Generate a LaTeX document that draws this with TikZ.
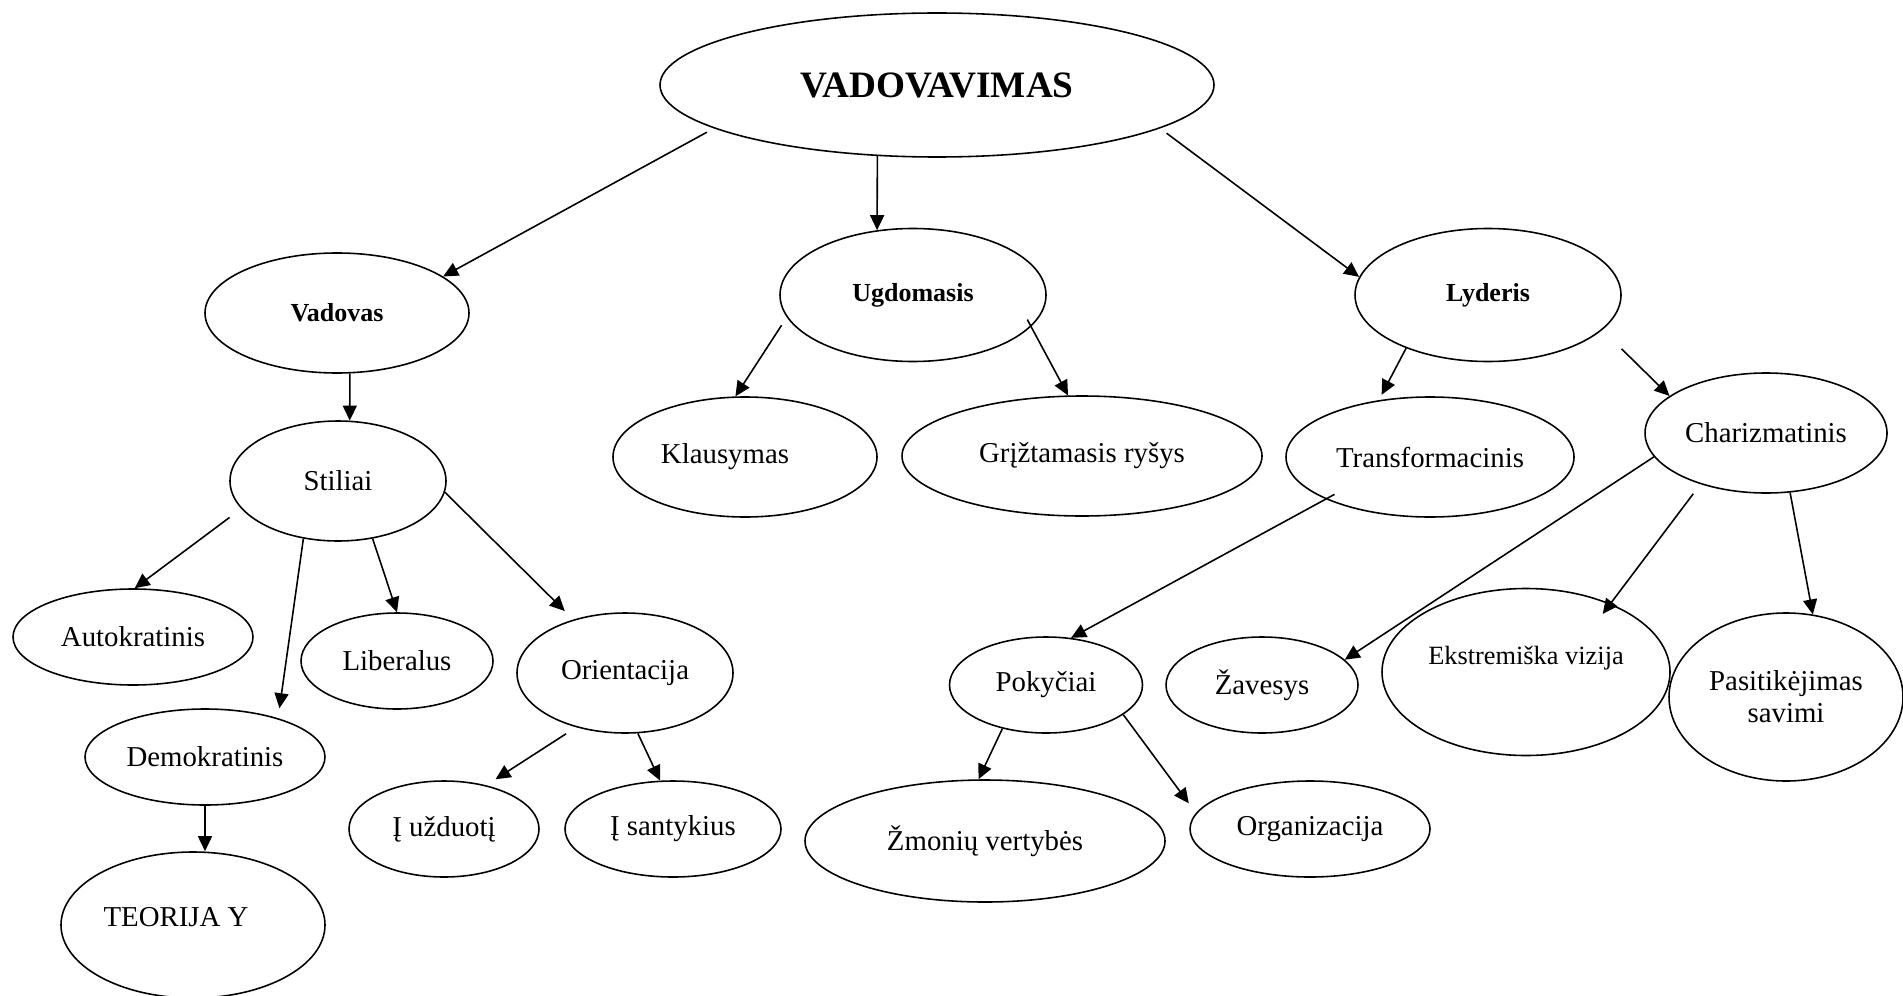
\documentclass[tikz,border=0pt]{standalone}
\usepackage{fontspec}
\setmainfont{Liberation Serif}
\usepackage{tikz}
\usetikzlibrary{positioning}
\usetikzlibrary{shapes.geometric}
\usetikzlibrary{arrows.meta}
\pgfdeclarelayer{nodelayer}
\pgfdeclarelayer{edgelayer}
\pgfsetlayers{nodelayer,edgelayer,main}
\tikzset{
  ovaltext/.style={font=\fontsize{8.2}{9.1}\selectfont, align=center},
  oval/.style={ellipse, draw, line width=0.45pt, inner sep=0pt, ovaltext},
  headoval/.style={oval, font=\fontsize{10.6}{12}\selectfont\bfseries},
  boldoval/.style={oval, font=\fontsize{7.4}{9}\selectfont\bfseries},
  arrowline/.style={-{Triangle[length=1.5mm, width=1.4mm]}, line width=0.45pt},
}

\begin{document}
\begin{tikzpicture}
  \useasboundingbox (0, 0) rectangle (19.03, 9.95);
  \begin{pgfonlayer}{nodelayer}
    \node [headoval, minimum width=5.54cm, minimum height=1.44cm] (vadovavimas) at (9.37, 9.10) {VADOVAVIMAS};
    \node [boldoval, minimum width=2.64cm, minimum height=1.2cm] (vadovas) at (3.37, 6.82) {Vadovas};
    \node [boldoval, minimum width=2.66cm, minimum height=1.33cm] (ugdomasis) at (9.13, 7.00) {Ugdomasis};
    \node [boldoval, minimum width=2.66cm, minimum height=1.33cm] (lyderis) at (14.88, 7.00) {Lyderis};
    \node [oval, minimum width=2.16cm, minimum height=1.2cm] (stiliai) at (3.38, 5.14) {Stiliai};
    \node [oval, minimum width=2.64cm, minimum height=1.2cm, label={[ovaltext, xshift=-0.2cm]center:Klausymas}] (klausymas) at (7.45, 5.38) {};
    \node [oval, minimum width=3.6cm, minimum height=1.2cm] (griztamasis) at (10.82, 5.39) {Grįžtamasis ryšys};
    \node [oval, minimum width=2.88cm, minimum height=1.2cm] (transformacinis) at (14.30, 5.38) {Transformacinis};
    \node [oval, minimum width=2.42cm, minimum height=1.2cm] (charizmatinis) at (17.66, 5.62) {Charizmatinis};
    \node [oval, minimum width=2.4cm, minimum height=0.96cm] (autokratinis) at (1.33, 3.58) {Autokratinis};
    \node [oval, minimum width=1.92cm, minimum height=0.96cm] (liberalus) at (3.97, 3.34) {Liberalus};
    \node [oval, minimum width=2.16cm, minimum height=1.2cm] (orientacija) at (6.25, 3.22) {Orientacija};
    \node [oval, minimum width=2.4cm, minimum height=0.96cm] (demokratinis) at (2.05, 2.38) {Demokratinis};
    \node [oval, minimum width=2.64cm, minimum height=1.46cm, label={[ovaltext, xshift=-0.17cm, yshift=0.08cm]center:TEORIJA Y}] (teorija) at (1.93, 0.70) {};
    \node [oval, minimum width=1.9cm, minimum height=0.96cm] (uzduoti) at (4.44, 1.66) {Į užduotį};
    \node [oval, minimum width=2.16cm, minimum height=0.96cm] (santykius) at (6.73, 1.66) {Į santykius};
    \node [oval, minimum width=1.93cm, minimum height=0.96cm] (pokyciai) at (10.46, 3.10) {Pokyčiai};
    \node [oval, minimum width=1.92cm, minimum height=0.96cm] (zavesys) at (12.62, 3.10) {Žavesys};
    \node [oval, minimum width=2.88cm, minimum height=1.67cm, label={[font=\fontsize{7.5}{9}\selectfont, yshift=0.14cm]center:Ekstremiška vizija}] (ekstremiska) at (15.26, 3.23) {};
    \node [oval, minimum width=2.34cm, minimum height=1.68cm] (pasitikejimas) at (17.86, 2.98) {Pasitikėjimas\\savimi};
    \node [oval, minimum width=3.6cm, minimum height=1.22cm] (zmoniu) at (9.85, 1.54) {Žmonių vertybės};
    \node [oval, minimum width=2.4cm, minimum height=0.96cm] (organizacija) at (13.10, 1.66) {Organizacija};
  \end{pgfonlayer}
  \begin{pgfonlayer}{edgelayer}
    \draw [arrowline, shorten <=0.8mm] (vadovavimas.191) to (vadovas.19);
    \draw [arrowline] (vadovavimas.230) to (ugdomasis.119);
    \draw [arrowline, shorten <=0.8mm] (vadovavimas.349) to (lyderis.172);
    \draw [arrowline] (vadovas.282) to (stiliai.79);
    \draw [arrowline, shorten <=0.95mm] (ugdomasis.190) to (klausymas.99);
    \draw [arrowline, shorten <=-0.8mm] (ugdomasis.345) to (griztamasis.103);
    \draw [arrowline, shorten >=0.6mm] (lyderis.213) to (transformacinis.132);
    \draw [arrowline, shorten <=2.7mm] (lyderis.343) to (charizmatinis.159);
    \draw [arrowline, shorten <=1.45mm] (stiliai.196) to (autokratinis.88);
    \draw [arrowline, shorten >=1mm] (stiliai.239) to (demokratinis.28);
    \draw [arrowline] (stiliai.301) to (liberalus.north);
    \draw [arrowline, shorten >=1.2mm] (stiliai.354) to (orientacija.134);
    \draw [arrowline] (demokratinis.south) to (demokratinis.south |- teorija.north);
    \draw [arrowline, shorten <=1.2mm, shorten >=1.1mm] (orientacija.228) to (uzduoti.46);
    \draw [arrowline] (orientacija.282) to (santykius.105);
    \draw [arrowline, shorten <=-1mm] (transformacinis.202) to (pokyciai.62);
    \draw [arrowline] (charizmatinis.192) to (zavesys.17);
    \draw [arrowline, shorten <=1.2mm, shorten >=-1.3mm] (charizmatinis.218) to (ekstremiska.39);
    \draw [arrowline] (charizmatinis.292) to (pasitikejimas.72);
    \draw [arrowline] (pokyciai.225) to (zmoniu.96);
    \draw [arrowline, shorten >=1.2mm] (pokyciai.339) to (organizacija.172);
  \end{pgfonlayer}
\end{tikzpicture}
\end{document}
